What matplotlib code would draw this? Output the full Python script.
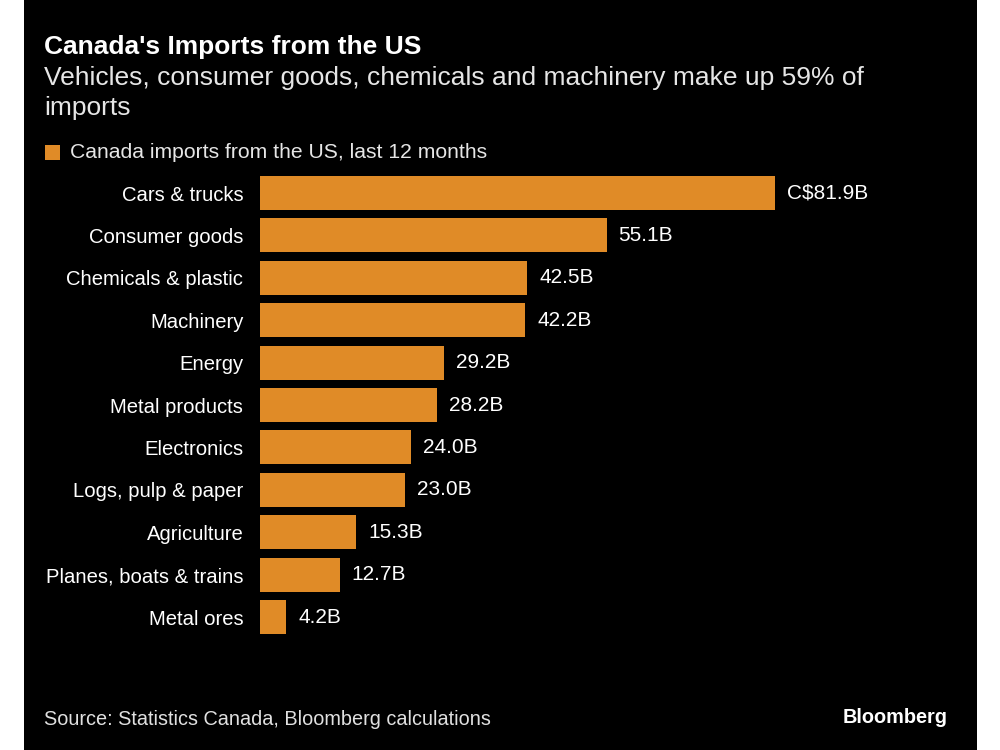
import matplotlib
matplotlib.use("Agg")
import matplotlib.pyplot as plt
from matplotlib.patches import Rectangle

categories = ["Cars & trucks", "Consumer goods", "Chemicals & plastic", "Machinery",
              "Energy", "Metal products", "Electronics", "Logs, pulp & paper",
              "Agriculture", "Planes, boats & trains", "Metal ores"]
values = [81.9, 55.1, 42.5, 42.2, 29.2, 28.2, 24.0, 23.0, 15.3, 12.7, 4.2]
value_labels = ["C$81.9B", "55.1B", "42.5B", "42.2B", "29.2B", "28.2B",
                "24.0B", "23.0B", "15.3B", "12.7B", "4.2B"]

plt.rcParams['font.family'] = ['Liberation Sans', 'DejaVu Sans']

bar_color = "#E08B27"
fig = plt.figure(figsize=(10, 7.5), dpi=100, facecolor="white")
# black panel behind everything
fig.patches.append(Rectangle((0.024, 0), 0.953, 1, transform=fig.transFigure,
                             facecolor="black", edgecolor="none", zorder=-10))

ax = fig.add_axes([0.26, 1 - 638.2 / 750, 0.64, 466.4 / 750])
ax.set_facecolor("none")
y = list(range(len(categories)))
ax.barh(y, values, height=0.8, color=bar_color)
ax.set_xlim(0, 640 / 6.29)
ax.set_ylim(len(categories) - 0.5, -0.5)
ax.set_yticks(y)
ax.set_yticklabels(categories, fontsize=14.6, color="white")
ax.tick_params(axis="y", length=0, pad=12)
ax.set_xticks([])
for s in ax.spines.values():
    s.set_visible(False)
for yi, v, lab in zip(y, values, value_labels):
    ax.text(v + 1.9, yi, lab, va="center", ha="left", color="white", fontsize=15)

fig.text(0.044, 0.937, "Canada's Imports from the US", fontsize=19, fontweight="bold",
         color="white", va="center")
fig.text(0.044, 0.896, "Vehicles, consumer goods, chemicals and machinery make up 59% of",
         fontsize=19, color="#e6e6e6", va="center")
fig.text(0.044, 0.856, "imports", fontsize=19, color="#e6e6e6", va="center")
fig.patches.append(Rectangle((0.045, 0.787), 0.015, 0.02, transform=fig.transFigure,
                             facecolor=bar_color, edgecolor="none", zorder=1))
fig.text(0.07, 0.797, "Canada imports from the US, last 12 months", fontsize=15.2,
         color="#e6e6e6", va="center")
fig.text(0.044, 0.041, "Source: Statistics Canada, Bloomberg calculations", fontsize=14.3,
         color="#e0e0e0", va="center")
fig.text(0.948, 0.043, "Bloomberg", fontsize=14.3, fontweight="bold", color="white",
         va="center", ha="right")

fig.savefig("out.png", dpi=100, facecolor="white")
